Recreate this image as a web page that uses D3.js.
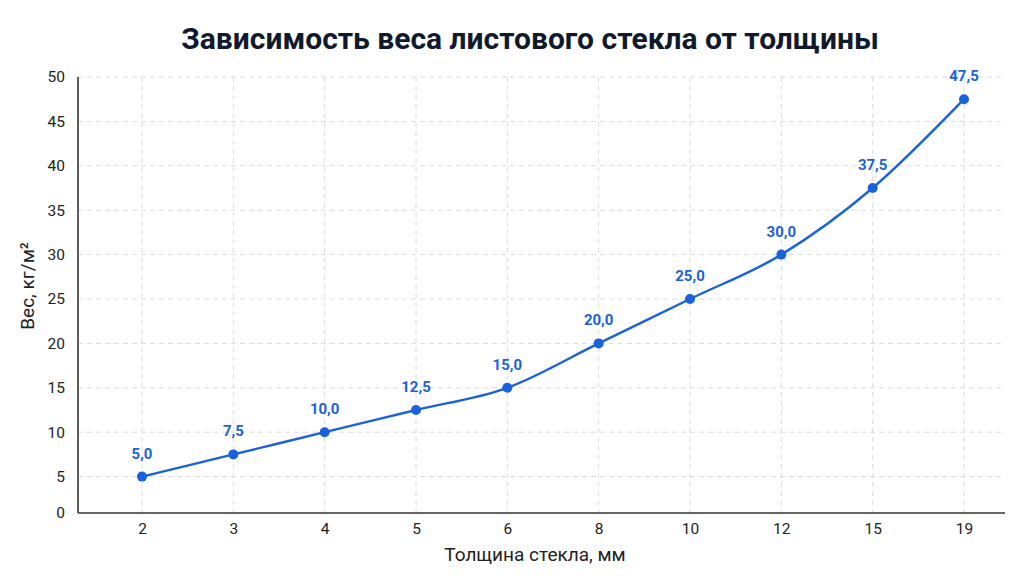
<!DOCTYPE html>
<html>
<head>
<meta charset="utf-8">
<script src="https://cdn.jsdelivr.net/npm/d3@7"></script>
<style>
  html, body { margin: 0; padding: 0; background: #fff; }
  svg { display: block; font-family: Roboto, "Noto Sans", sans-serif; }
</style>
</head>
<body>
<svg id="chart" width="1024" height="576"></svg>
<script>
const thickness = ["2", "3", "4", "5", "6", "8", "10", "12", "15", "19"];
const weight = [5.0, 7.5, 10.0, 12.5, 15.0, 20.0, 25.0, 30.0, 37.5, 47.5];
const yTicks = [5, 10, 15, 20, 25, 30, 35, 40, 45, 50];

const title = "Зависимость веса листового стекла от толщины";
const xTitle = "Толщина стекла, мм";
const yTitle = "Вес, кг/м²";

const plotLeft = 78, plotRight = 1005, plotTop = 77, baseY = 513;
const blue = "#1a62dc";

const svg = d3.select("#chart");

const x = d3.scalePoint().domain(thickness).range([142, 964]);
const y = d3.scaleLinear().domain([0, 50]).range([521, plotTop]);

const fmt = v => v.toFixed(1).replace(".", ",");

// grid
svg.append("g")
  .selectAll("line")
  .data(yTicks)
  .join("line")
  .attr("x1", plotLeft).attr("x2", plotRight)
  .attr("y1", d => y(d)).attr("y2", d => y(d))
  .attr("stroke", "#dcdcdc").attr("stroke-width", 1)
  .attr("stroke-dasharray", "5,4");

svg.append("g")
  .selectAll("line")
  .data(thickness)
  .join("line")
  .attr("x1", d => x(d)).attr("x2", d => x(d))
  .attr("y1", plotTop).attr("y2", baseY)
  .attr("stroke", "#dcdcdc").attr("stroke-width", 1)
  .attr("stroke-dasharray", "5,4");

// y axis
const yAxis = svg.append("g")
  .attr("transform", `translate(${plotLeft},0)`)
  .call(d3.axisLeft(y).tickValues(yTicks).tickSize(0).tickPadding(13));
yAxis.select(".domain").remove();
yAxis.selectAll("text")
  .attr("font-size", 15.5).attr("fill", "#222").attr("font-family", "Roboto, sans-serif");

// zero label sits on the baseline
svg.append("text")
  .attr("x", plotLeft - 13).attr("y", baseY)
  .attr("dy", "0.32em")
  .attr("text-anchor", "end")
  .attr("font-size", 15.5).attr("fill", "#222")
  .text("0");

// x axis
const xAxis = svg.append("g")
  .attr("transform", `translate(0,${baseY})`)
  .call(d3.axisBottom(x).tickSize(0).tickPadding(10));
xAxis.select(".domain").remove();
xAxis.selectAll("text")
  .attr("font-size", 15.5).attr("fill", "#222").attr("font-family", "Roboto, sans-serif");

// axis lines
svg.append("line")
  .attr("x1", plotLeft).attr("x2", plotLeft).attr("y1", plotTop).attr("y2", baseY)
  .attr("stroke", "#333").attr("stroke-width", 1.6);
svg.append("line")
  .attr("x1", plotLeft).attr("x2", plotRight).attr("y1", baseY).attr("y2", baseY)
  .attr("stroke", "#333").attr("stroke-width", 1.6);

// line
const line = d3.line()
  .curve(d3.curveMonotoneX)
  .x((d, i) => x(thickness[i]))
  .y(d => y(d));

svg.append("path")
  .datum(weight)
  .attr("d", line)
  .attr("fill", "none")
  .attr("stroke", blue)
  .attr("stroke-width", 2.4);

svg.append("g")
  .selectAll("circle")
  .data(weight)
  .join("circle")
  .attr("cx", (d, i) => x(thickness[i]))
  .attr("cy", d => y(d))
  .attr("r", 5)
  .attr("fill", blue);

svg.append("g")
  .selectAll("text")
  .data(weight)
  .join("text")
  .attr("x", (d, i) => x(thickness[i]))
  .attr("y", d => y(d) - 18)
  .attr("text-anchor", "middle")
  .attr("font-size", 15)
  .attr("font-weight", "bold")
  .attr("fill", blue)
  .text(d => fmt(d));

// titles
svg.append("text")
  .attr("x", 530).attr("y", 49)
  .attr("text-anchor", "middle")
  .attr("font-size", 30)
  .attr("font-weight", "bold")
  .attr("fill", "#111a2c")
  .text(title);

svg.append("text")
  .attr("x", 535).attr("y", 561)
  .attr("text-anchor", "middle")
  .attr("font-size", 19)
  .attr("fill", "#222")
  .text(xTitle);

svg.append("text")
  .attr("transform", `translate(34,286) rotate(-90)`)
  .attr("text-anchor", "middle")
  .attr("font-size", 19)
  .attr("fill", "#222")
  .text(yTitle);
</script>
</body>
</html>
